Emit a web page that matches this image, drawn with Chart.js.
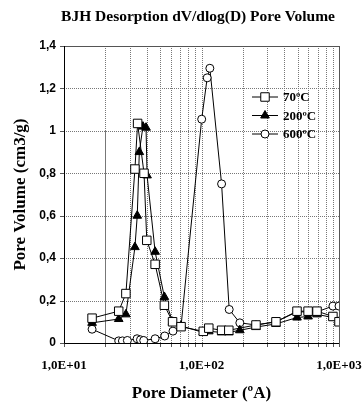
<!DOCTYPE html>
<html>
<head>
<meta charset="utf-8">
<script src="https://cdn.jsdelivr.net/npm/chart.js@4"></script>
<style>
  html, body { margin: 0; padding: 0; background: #fff; }
  #wrap { width: 364px; height: 408px; position: relative; }
</style>
</head>
<body>
<div id="wrap"><canvas id="pores"></canvas></div>
<script>
// Pore diameters (ºA) and dV/dlog(D) values per calcination temperature
const diam70 = [16, 25, 28.2, 32.8, 34.3, 38.2, 40, 46, 53.7, 61.6, 71, 103, 113, 140, 158, 249, 348, 495, 596, 692, 903, 1000];
const vol70 = [0.117, 0.15, 0.233, 0.82, 1.035, 0.80, 0.484, 0.371, 0.178, 0.10, 0.077, 0.055, 0.07, 0.06, 0.06, 0.085, 0.10, 0.15, 0.15, 0.15, 0.125, 0.10];

const diam200 = [16, 25, 28.2, 32.8, 34.1, 35.3, 37.5, 39.5, 40.2, 46, 53.7, 61.6, 71, 103, 113, 140, 158, 190, 249, 348, 495, 596, 692, 903, 1000];
const vol200 = [0.095, 0.113, 0.135, 0.452, 0.60, 0.90, 1.02, 1.015, 0.79, 0.43, 0.217, 0.10, 0.08, 0.05, 0.055, 0.05, 0.05, 0.06, 0.075, 0.09, 0.12, 0.125, 0.135, 0.12, 0.10];

const diam600 = [16, 25, 26.6, 28.9, 34, 36, 38, 46, 54, 62, 71, 100.3, 110, 115, 140, 159, 190, 249, 348, 495, 596, 692, 903, 1000];
const vol600 = [0.065, 0.01, 0.01, 0.012, 0.02, 0.015, 0.012, 0.02, 0.033, 0.056, 0.08, 1.055, 1.25, 1.295, 0.75, 0.158, 0.095, 0.085, 0.10, 0.147, 0.147, 0.147, 0.174, 0.174];

const seriesLabels = ['70ºC', '200ºC', '600ºC'];
const xTicks = [10, 20, 30, 40, 50, 60, 70, 80, 90, 100, 200, 300, 400, 500, 600, 700, 800, 900, 1000];
const xTickLabels = { 10: '1,0E+01', 100: '1,0E+02', 1000: '1,0E+03' };
const yTicks = [0, 0.2, 0.4, 0.6, 0.8, 1, 1.2, 1.4];
const chartTitle = 'BJH Desorption dV/dlog(D) Pore Volume';

const serif = "'Liberation Serif', 'Times New Roman', serif";
const sans = "'Liberation Sans', Arial, sans-serif";

const toPoints = (xs, ys) => xs.map((x, i) => ({ x, y: ys[i] }));
const crisp = v => Math.round(v) + 0.5;

// dotted spreadsheet-style grid, plus the small outside tick marks
const dottedGrid = {
  id: 'dottedGrid',
  beforeDatasetsDraw(chart) {
    const { ctx, chartArea: a, scales: { x, y } } = chart;
    ctx.save();
    ctx.lineWidth = 1;
    xTicks.forEach(v => {
      const px = crisp(x.getPixelForValue(v));
      ctx.setLineDash([1, 1]);
      ctx.strokeStyle = '#777';
      ctx.beginPath();
      ctx.moveTo(px, a.top);
      ctx.lineTo(px, a.bottom);
      ctx.stroke();
      if (v === 20) {
        // the original has a stray solid line here below 1,0
        ctx.setLineDash([]);
        ctx.strokeStyle = '#777';
        ctx.beginPath();
        ctx.moveTo(px, y.getPixelForValue(1));
        ctx.lineTo(px, a.bottom);
        ctx.stroke();
      }
      ctx.setLineDash([]);
      ctx.strokeStyle = '#555';
      ctx.beginPath();
      ctx.moveTo(px, a.bottom);
      ctx.lineTo(px, a.bottom + 4);
      ctx.stroke();
    });
    yTicks.forEach(v => {
      const py = crisp(y.getPixelForValue(v));
      ctx.setLineDash([1, 1]);
      ctx.strokeStyle = '#777';
      ctx.beginPath();
      ctx.moveTo(a.left, py);
      ctx.lineTo(a.right, py);
      ctx.stroke();
      ctx.setLineDash([]);
      ctx.strokeStyle = '#555';
      ctx.beginPath();
      ctx.moveTo(a.left - 4, py);
      ctx.lineTo(a.left, py);
      ctx.stroke();
    });
    // frame: black axes, dark grey top and right
    ctx.strokeStyle = '#555';
    ctx.strokeRect(crisp(a.left), crisp(a.top), Math.round(a.right - a.left), Math.round(a.bottom - a.top));
    ctx.strokeStyle = '#000';
    ctx.beginPath();
    ctx.moveTo(crisp(a.left), a.top);
    ctx.lineTo(crisp(a.left), crisp(a.bottom));
    ctx.lineTo(a.right, crisp(a.bottom));
    ctx.stroke();
    ctx.restore();
  }
};

const topTitle = {
  id: 'topTitle',
  afterDraw(chart) {
    const { ctx } = chart;
    ctx.save();
    ctx.fillStyle = '#000';
    ctx.font = 'bold 15.5px ' + serif;
    ctx.textAlign = 'center';
    ctx.textBaseline = 'middle';
    ctx.fillText(chartTitle, 198, 17);
    ctx.restore();
  }
};

// legend drawn inside the plot, like the spreadsheet original
const innerLegend = {
  id: 'innerLegend',
  afterDraw(chart) {
    const { ctx } = chart;
    const x0 = 252, y0 = 97, rowH = 18.5;
    ctx.save();
    chart.data.datasets.forEach((ds, i) => {
      const y = y0 + i * rowH;
      ctx.strokeStyle = '#000';
      ctx.lineWidth = 1;
      ctx.setLineDash([]);
      ctx.beginPath();
      ctx.moveTo(x0, y);
      ctx.lineTo(x0 + 26, y);
      ctx.stroke();
      ctx.fillStyle = ds.pointBackgroundColor;
      ctx.strokeStyle = '#000';
      Chart.helpers.drawPoint(ctx, {
        pointStyle: ds.pointStyle,
        radius: ds.pointRadius,
        borderWidth: 1
      }, x0 + 13, y);
      ctx.fillStyle = '#000';
      ctx.font = 'bold 13px ' + serif;
      ctx.textBaseline = 'middle';
      ctx.fillText(ds.label, x0 + 31, y + 1);
    });
    ctx.restore();
  }
};

const ctx = document.getElementById('pores').getContext('2d');
new Chart(ctx, {
  type: 'line',
  data: {
    datasets: [
      {
        label: seriesLabels[0],
        data: toPoints(diam70, vol70),
        borderColor: '#000',
        borderWidth: 1,
        pointStyle: 'rect',
        pointRadius: 6,
        pointBackgroundColor: '#fff',
        pointBorderColor: '#000',
        pointBorderWidth: 1
      },
      {
        label: seriesLabels[1],
        data: toPoints(diam200, vol200),
        borderColor: '#000',
        borderWidth: 1,
        pointStyle: 'triangle',
        pointRadius: 5,
        pointBackgroundColor: '#000',
        pointBorderColor: '#000',
        pointBorderWidth: 1
      },
      {
        label: seriesLabels[2],
        data: toPoints(diam600, vol600),
        borderColor: '#000',
        borderWidth: 1,
        pointStyle: 'circle',
        pointRadius: 4,
        pointBackgroundColor: '#fff',
        pointBorderColor: '#000',
        pointBorderWidth: 1
      }
    ]
  },
  options: {
    responsive: true,
    maintainAspectRatio: false,
    animation: false,
    layout: { padding: { top: 46, right: 25, bottom: 0, left: 0 } },
    elements: { line: { tension: 0 } },
    plugins: {
      legend: { display: false },
      tooltip: { enabled: false },
      title: { display: false }
    },
    scales: {
      x: {
        type: 'logarithmic',
        min: 10,
        max: 1000,
        afterBuildTicks: s => { s.ticks = xTicks.map(v => ({ value: v })); },
        afterFit: s => {
          s.height = 65;
          s.paddingLeft = 0;
          s.paddingRight = 0;
        },
        grid: { display: false },
        border: { display: false },
        ticks: {
          autoSkip: false,
          maxRotation: 0,
          color: '#000',
          padding: 7,
          font: { family: serif, size: 13, weight: 'bold' },
          callback: v => xTickLabels[v] || ''
        },
        title: {
          display: true,
          text: 'Pore Diameter (ºA)',
          color: '#000',
          font: { family: serif, size: 17, weight: 'bold' },
          padding: { top: 14 }
        }
      },
      y: {
        min: 0,
        max: 1.4,
        afterFit: s => { s.width = 64; },
        grid: { display: false },
        border: { display: false },
        ticks: {
          stepSize: 0.2,
          color: '#000',
          padding: 0,
          font: { family: sans, size: 12, weight: 'bold' },
          callback: v => String(Math.round(v * 10) / 10).replace('.', ',')
        },
        title: {
          display: true,
          text: 'Pore Volume (cm3/g)',
          color: '#000',
          font: { family: serif, size: 17, weight: 'bold' },
          padding: { top: 10, bottom: 2 }
        }
      }
    }
  },
  plugins: [dottedGrid, innerLegend, topTitle]
});
</script>
</body>
</html>
